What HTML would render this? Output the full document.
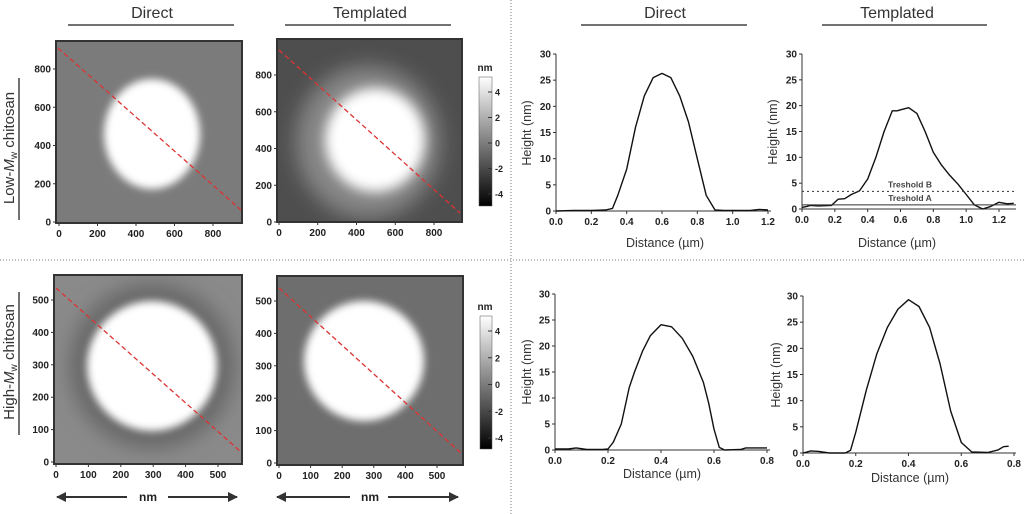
<!DOCTYPE html>
<html><head><meta charset="utf-8"><style>
html,body{margin:0;padding:0;background:#fff;}
svg{display:block;font-family:"Liberation Sans",Arial,sans-serif;}
.tk{font-size:10px;font-weight:bold;fill:#222;}
.lab{font-size:12.5px;fill:#333;}
.ttl{font-size:16px;fill:#333;}
</style></head><body>
<svg id="fig" width="1024" height="514" viewBox="0 0 1024 514">
<defs>
<filter id="bl4" x="-50%" y="-50%" width="200%" height="200%"><feGaussianBlur stdDeviation="4"/></filter>
<filter id="bl10" x="-50%" y="-50%" width="200%" height="200%"><feGaussianBlur stdDeviation="10"/></filter>
<filter id="bl6" x="-50%" y="-50%" width="200%" height="200%"><feGaussianBlur stdDeviation="6"/></filter>
<linearGradient id="cbar" x1="0" y1="0" x2="0" y2="1"><stop offset="0" stop-color="#fff"/><stop offset="1" stop-color="#000"/></linearGradient>
<clipPath id="c1"><rect x="56" y="41" width="186" height="182"/></clipPath>
<clipPath id="c2"><rect x="277" y="39" width="185" height="183"/></clipPath>
<clipPath id="c3"><rect x="54" y="275" width="188" height="189"/></clipPath>
<clipPath id="c4"><rect x="277" y="276" width="186" height="189"/></clipPath>
<marker id="ah" viewBox="0 0 10 10" refX="9" refY="5" markerWidth="5" markerHeight="5" orient="auto-start-reverse"><path d="M0,0L10,5L0,10z" fill="#333"/></marker>
</defs>

<line x1="0" y1="260" x2="1024" y2="260" stroke="#777" stroke-dasharray="1,2"/>
<line x1="511" y1="0" x2="511" y2="514" stroke="#777" stroke-dasharray="1,2"/>

<g>
<text class="ttl" x="152" y="18" text-anchor="middle">Direct</text>
<line x1="68" y1="25" x2="234" y2="25" stroke="#444" stroke-width="1.5"/>
<text class="ttl" x="370" y="18" text-anchor="middle">Templated</text>
<line x1="285" y1="25" x2="451" y2="25" stroke="#444" stroke-width="1.5"/>
<text class="ttl" x="665" y="18" text-anchor="middle">Direct</text>
<line x1="581" y1="25" x2="747" y2="25" stroke="#444" stroke-width="1.5"/>
<text class="ttl" x="897" y="18" text-anchor="middle">Templated</text>
<line x1="822" y1="25" x2="987" y2="25" stroke="#444" stroke-width="1.5"/>
</g>

<g>
<text class="ttl" transform="translate(14,148) rotate(-90)" text-anchor="middle" style="font-size:15px">Low-<tspan font-style="italic">M</tspan><tspan font-size="10" dy="3">w</tspan><tspan dy="-3"> chitosan</tspan></text>
<line x1="19" y1="78" x2="19" y2="220" stroke="#444" stroke-width="1.5"/>
</g>
<g>
<text class="ttl" transform="translate(14,362) rotate(-90)" text-anchor="middle" style="font-size:15px">High-<tspan font-style="italic">M</tspan><tspan font-size="10" dy="3">w</tspan><tspan dy="-3"> chitosan</tspan></text>
<line x1="19" y1="292" x2="19" y2="435" stroke="#444" stroke-width="1.5"/>
</g>

<g>
<g clip-path="url(#c1)">
<rect x="56" y="41" width="186" height="182" fill="#7b7b7b"/>
<ellipse cx="152" cy="134" rx="48" ry="55" fill="#fff" filter="url(#bl4)"/>
</g>
<rect x="56" y="41" width="186" height="182" fill="none" stroke="#333" stroke-width="2"/>
<line x1="58" y1="48" x2="241" y2="210" stroke="#d33" stroke-width="1.3" stroke-dasharray="5,3"/>
</g>
<g>
<g clip-path="url(#c2)">
<rect x="277" y="39" width="185" height="183" fill="#4e4e4e"/>
<ellipse cx="368" cy="142" rx="72" ry="76" fill="#878787" filter="url(#bl10)"/>
<ellipse cx="375" cy="140" rx="50" ry="52" fill="#fff" filter="url(#bl6)"/>
</g>
<rect x="277" y="39" width="185" height="183" fill="none" stroke="#333" stroke-width="2"/>
<line x1="279" y1="50" x2="460" y2="213" stroke="#d33" stroke-width="1.3" stroke-dasharray="5,3"/>
</g>
<g>
<g clip-path="url(#c3)">
<rect x="54" y="275" width="188" height="189" fill="#8a8a8a"/>
<circle cx="152" cy="366" r="82" fill="#666" filter="url(#bl10)"/>
<circle cx="152" cy="366" r="65" fill="#fff" filter="url(#bl4)"/>
</g>
<rect x="54" y="275" width="188" height="189" fill="none" stroke="#333" stroke-width="2"/>
<line x1="56" y1="288" x2="241" y2="452" stroke="#d33" stroke-width="1.3" stroke-dasharray="5,3"/>
</g>
<g>
<g clip-path="url(#c4)">
<rect x="277" y="276" width="186" height="189" fill="#6e6e6e"/>
<circle cx="364" cy="361" r="60" fill="#fff" filter="url(#bl4)"/>
</g>
<rect x="277" y="276" width="186" height="189" fill="none" stroke="#333" stroke-width="2"/>
<line x1="279" y1="288" x2="462" y2="454" stroke="#d33" stroke-width="1.3" stroke-dasharray="5,3"/>
</g>

<g>
<text x="485" y="71" class="tk" text-anchor="middle">nm</text>
<rect x="479" y="77" width="13" height="129" fill="url(#cbar)" stroke="#555" stroke-width="0.5"/>
</g>
<g>
<text x="485" y="310" class="tk" text-anchor="middle">nm</text>
<rect x="480" y="316" width="12" height="133" fill="url(#cbar)" stroke="#555" stroke-width="0.5"/>
</g>

<g>
<line x1="57" y1="497" x2="127" y2="497" stroke="#333" stroke-width="2" marker-start="url(#ah)"/>
<line x1="168" y1="497" x2="237" y2="497" stroke="#333" stroke-width="2" marker-end="url(#ah)"/>
<text x="148" y="501" class="tk" style="font-size:12px" text-anchor="middle">nm</text>
</g>
<g>
<line x1="277" y1="497" x2="350" y2="497" stroke="#333" stroke-width="2" marker-start="url(#ah)"/>
<line x1="388" y1="497" x2="458" y2="497" stroke="#333" stroke-width="2" marker-end="url(#ah)"/>
<text x="370" y="501" class="tk" style="font-size:12px" text-anchor="middle">nm</text>
</g>
<g id="dyn"></g>
</svg>
<script>
const afmTicksLowY = [0,200,400,600,800];
const afmTicksLowX = [0,200,400,600,800];
const afmTicksHigh = [0,100,200,300,400,500];
const cbTicks = [4,2,0,-2,-4];

const p1x = [0,0.1,0.2,0.28,0.32,0.35,0.4,0.45,0.5,0.55,0.6,0.65,0.7,0.75,0.8,0.85,0.9,0.95,1.0,1.1,1.15,1.2];
const p1y = [0,0.1,0.1,0.2,0.5,3,8,16,22,25.5,26.3,25.5,22,17,10,3,0.2,0.1,0.1,0.1,0.3,0.2];
const p2x = [0,0.03,0.05,0.1,0.18,0.22,0.26,0.3,0.35,0.4,0.45,0.5,0.55,0.58,0.6,0.65,0.7,0.75,0.8,0.85,0.9,0.95,1.0,1.05,1.1,1.15,1.2,1.25,1.29];
const p2y = [0.3,0.5,0.7,0.6,0.7,1.9,2.0,2.8,3.5,5.8,10,15,19,19,19.2,19.6,18.5,15,11,8.5,6.5,4.8,2.8,0.8,0,0.5,1.3,1.0,1.1];
const p3x = [0,0.05,0.08,0.12,0.18,0.2,0.22,0.25,0.28,0.3,0.33,0.36,0.4,0.44,0.48,0.52,0.56,0.58,0.6,0.62,0.64,0.7,0.72,0.8];
const p3y = [0.2,0.2,0.4,0.1,0.1,0.2,1.5,5,12,15,19,22,24.1,23.7,21.5,18,13,9,4,0.5,0,0.1,0.4,0.4];
const p4x = [0,0.03,0.06,0.1,0.16,0.18,0.2,0.24,0.28,0.32,0.36,0.4,0.44,0.48,0.52,0.56,0.6,0.64,0.7,0.74,0.76,0.78];
const p4y = [0,0.4,0.3,0,0,0.5,4,12,19,24,27.5,29.3,28,24,17,8,2,0.2,0.1,0.6,1.2,1.3];
const thresholds = [3.4, 0.8];
const thresholdNames = ["Treshold B","Treshold A"];

const NS='http://www.w3.org/2000/svg';
const dyn=document.getElementById('dyn');
function mk(tag,attrs,parent){const e=document.createElementNS(NS,tag);for(const k in attrs)e.setAttribute(k,attrs[k]);(parent||dyn).appendChild(e);return e;}
function txt(str,attrs,parent){const e=mk('text',attrs,parent);e.textContent=str;return e;}

function afmAxes(name,x0,xPx0,xPx1,vx0,vx1,xt,yPx0,yPx1,vy0,vy1,yt,axY,axX){
  const g=mk('g',{});
  
  
  const sx=v=>xPx0+(v-vx0)/(vx1-vx0)*(xPx1-xPx0);
  const sy=v=>yPx0+(v-vy0)/(vy1-vy0)*(yPx1-yPx0);
  xt.forEach(v=>{mk('line',{x1:sx(v),y1:axY,x2:sx(v),y2:axY+3,stroke:'#333'},g);txt(String(v),{x:sx(v),y:axY+14,'text-anchor':'middle',class:'tk'},g);});
  yt.forEach(v=>{mk('line',{x1:axX-3,y1:sy(v),x2:axX,y2:sy(v),stroke:'#333'},g);txt(String(v),{x:axX-5,y:sy(v)+3.5,'text-anchor':'end',class:'tk'},g);});
}
afmAxes('afm-low-direct-axes',0,59,213,0,800,afmTicksLowX,222,69,0,800,afmTicksLowY,223,56);
afmAxes('afm-low-templated-axes',0,279,434,0,800,afmTicksLowX,222,75,0,800,afmTicksLowY,222,277);
afmAxes('afm-high-direct-axes',0,56,218,0,500,afmTicksHigh,462,300,0,500,afmTicksHigh,464,54);
afmAxes('afm-high-templated-axes',0,279,437,0,500,afmTicksHigh,463,301,0,500,afmTicksHigh,465,277);

function cbar(name,x,yTop4,yBot4){
  const g=mk('g',{});
  
  
  cbTicks.forEach(v=>{const y=yTop4+(4-v)/8*(yBot4-yTop4);mk('line',{x1:x,y1:y,x2:x+4,y2:y,stroke:'#333'},g);txt(String(v),{x:x+7,y:y+3.5,class:'tk',style:'font-size:9px'},g);});
}
cbar('colorbar-top-ticks',488,92,194);
cbar('colorbar-bottom-ticks',488,331,438);

function profile(name,xs,ys,xPx0,xPx1,xMax,xStep,xDec,yPx0,yPx1,axisEnd,labX,labY,hlabX){
  const g=mk('g',{});
  
  
  const sx=v=>xPx0+v/xMax*(xPx1-xPx0);
  const sy=v=>yPx0+v/30*(yPx1-yPx0);
  const ax=mk('path',{d:`M${xPx0},${sy(30)}V${yPx0}H${axisEnd}`,fill:'none',stroke:'#333','stroke-width':1},g);
  
  
  for(let v=0;v<=30;v+=5){const y=sy(v);mk('line',{x1:xPx0-3,y1:y,x2:xPx0,y2:y,stroke:'#333'},g);txt(String(v),{x:xPx0-5,y:y+3.5,'text-anchor':'end',class:'tk'},g);}
  const n=Math.round(xMax/xStep);
  for(let i=0;i<=n;i++){const v=i*xStep;const x=sx(v);mk('line',{x1:x,y1:yPx0,x2:x,y2:yPx0+3,stroke:'#333'},g);txt(v.toFixed(1),{x:x,y:yPx0+14,'text-anchor':'middle',class:'tk'},g);}
  let d='';xs.forEach((v,i)=>{d+=(i?'L':'M')+sx(v).toFixed(1)+','+sy(ys[i]).toFixed(1);});
  const ln=mk('path',{d:d,fill:'none',stroke:'#111','stroke-width':1.4,'stroke-linejoin':'round'},g);
  
  
  txt('Distance (\u00b5m)',{x:labX,y:labY,'text-anchor':'middle',class:'lab'},g);
  txt('Height (nm)',{transform:`translate(${hlabX},${(sy(15)).toFixed(0)}) rotate(-90)`,'text-anchor':'middle',class:'lab'},g);
  return {g,sx,sy};
}
profile('profile-low-direct',p1x,p1y,556,768,1.2,0.2,1,211,54,771,665,247,531);
const t2=profile('profile-low-templated',p2x,p2y,802,999,1.2,0.2,1,209,54,1016,897,247,777);
thresholds.forEach((v,i)=>{
  const y=t2.sy(v);
  const l=mk('line',{x1:802,y1:y,x2:1016,y2:y,stroke:'#333','stroke-width':1,'stroke-dasharray':i===0?'2,3':'none'},t2.g);
  
  
  txt(thresholdNames[i],{x:910,y:y-4,'text-anchor':'middle',class:'tk',style:'font-size:8.5px;fill:#444'},t2.g);
});
profile('profile-high-direct',p3x,p3y,555,767,0.8,0.2,1,450,294,770,662,478,531);
profile('profile-high-templated',p4x,p4y,803,1014,0.8,0.2,1,453,296,1016,910,482,780);
</script>
</body></html>
